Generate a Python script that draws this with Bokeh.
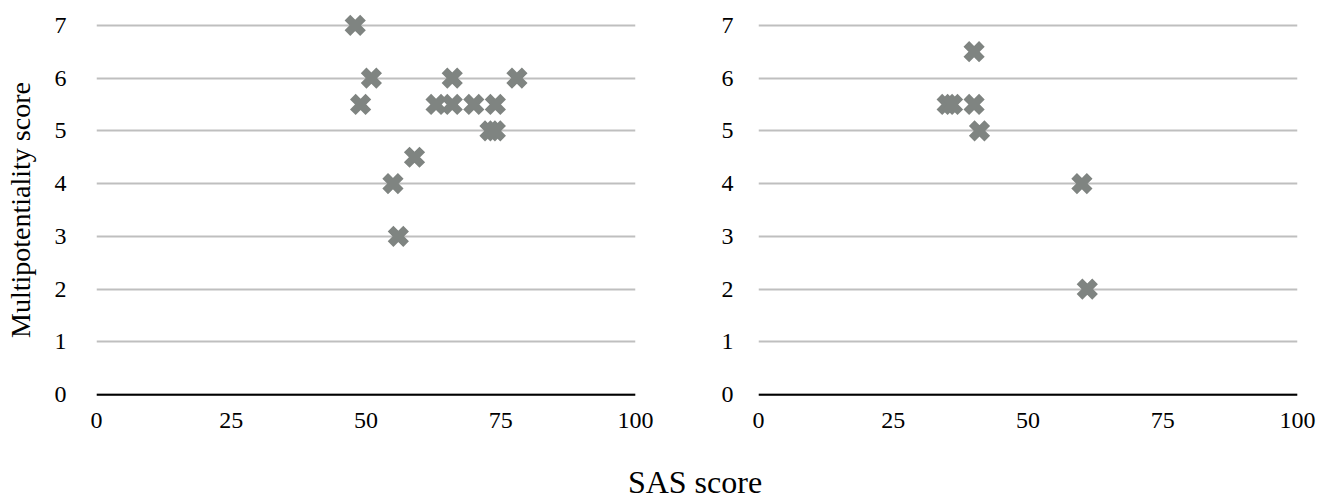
from bokeh.plotting import figure
from bokeh.layouts import column, row
from bokeh.models import Range1d, FixedTicker, Div, Span
from bokeh.embed import file_html
from bokeh.resources import INLINE

# Left panel data (SAS score, multipotentiality score)
left_sas = [48, 49, 51, 55, 56, 59, 66, 78,
            63, 66, 70, 74, 73, 74]
left_multi = [7, 5.5, 6, 4, 3, 4.5, 6, 6,
              5.5, 5.5, 5.5, 5.5, 5, 5]

# Right panel data
right_sas = [35, 36, 40, 40, 41, 60, 61]
right_multi = [5.5, 5.5, 5.5, 6.5, 5, 4, 2]

x_ticks = [0, 25, 50, 75, 100]
y_ticks = [0, 1, 2, 3, 4, 5, 6, 7]

FONT = "Liberation Serif"
MARK = "#7f8481"
GRID = "#bfbfbf"


def make_panel(xs, ys, border_left, border_right, ylabel, standoff):
    p = figure(frame_width=539, frame_height=401, output_backend="svg", toolbar_location=None,
               x_range=Range1d(0, 100), y_range=Range1d(-0.3, 7.3),
               min_border_left=border_left, min_border_right=border_right,
               min_border_top=9, min_border_bottom=55)
    p.outline_line_color = None
    p.xgrid.grid_line_color = None
    p.ygrid.grid_line_color = GRID
    p.ygrid.grid_line_width = 2
    p.xaxis.ticker = FixedTicker(ticks=x_ticks)
    p.yaxis.ticker = FixedTicker(ticks=y_ticks)
    p.xaxis.axis_line_color = None
    p.xaxis.major_tick_line_color = None
    p.xaxis.minor_tick_line_color = None
    p.yaxis.axis_line_color = None
    p.yaxis.major_tick_line_color = None
    p.yaxis.minor_tick_line_color = None
    for ax in (p.xaxis, p.yaxis):
        ax.major_label_text_font = FONT
        ax.major_label_text_font_size = "24px"
        ax.major_label_text_color = "black"
    p.xaxis.major_label_standoff = -4
    p.yaxis.major_label_standoff = standoff
    if ylabel:
        p.yaxis.axis_label = ylabel
        p.yaxis.axis_label_text_font = FONT
        p.yaxis.axis_label_text_font_size = "28px"
        p.yaxis.axis_label_text_font_style = "normal"
        p.yaxis.axis_label_text_color = "black"
        p.yaxis.axis_label_standoff = 16
    p.add_layout(Span(location=0, dimension="width", line_color="black", line_width=2))
    p.scatter(xs, ys, marker="x", size=22, line_color=MARK, line_width=8)
    return p


p1 = make_panel(left_sas, left_multi, 96, 55, "Multipotentiality score", 24)
p2 = make_panel(right_sas, right_multi, 68, 21, None, 19)

title = Div(text="SAS score", width=1310, height=24,
            styles={"font-family": FONT, "font-size": "32px", "line-height": "24px",
                    "text-align": "center", "color": "black", "width": "1310px",
                    "padding-left": "70px", "box-sizing": "border-box"})

layout = column(row(p1, p2), title)
open("out.html", "w").write(file_html(layout, INLINE))
